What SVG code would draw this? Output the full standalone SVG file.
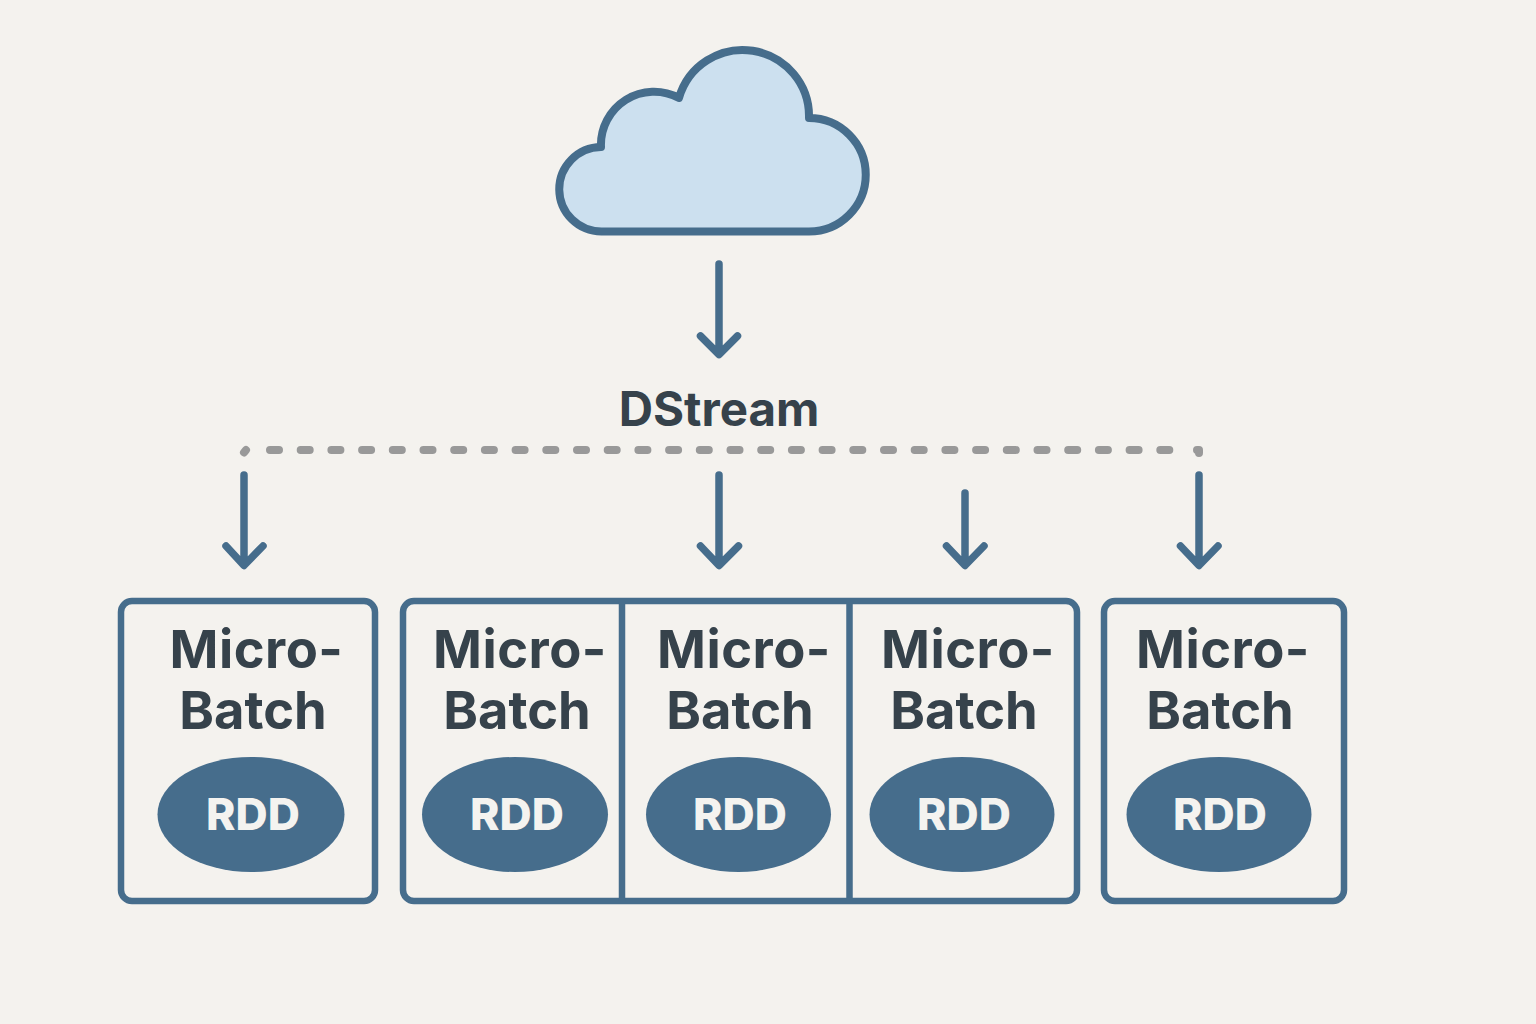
<svg xmlns="http://www.w3.org/2000/svg" width="1536" height="1024" viewBox="0 0 1536 1024">
<style>
.box{fill:none;stroke:#466d8c;stroke-width:6.500}
.ln{fill:none;stroke:#466d8c;stroke-width:7.500;stroke-linecap:round;stroke-linejoin:round}
.t{font-family:Inter,"Liberation Sans",sans-serif;font-weight:700;fill:#36424b;text-anchor:middle}
.mb{font-size:52.500px}
.m{letter-spacing:.5px}
.r{font-family:Inter,"Liberation Sans",sans-serif;font-weight:800;font-size:44.500px;fill:#f4f3f0;text-anchor:middle}
.e{fill:#466d8c}
.d{fill:none;stroke:#999;stroke-width:8;stroke-linecap:round;stroke-linejoin:round}
</style>
<rect width="1536" height="1024" fill="#f4f2ee"/>
<g id="cloud">
<path d="M602 231.500H809A56.500 56.500 0 0 0 809 118A66.300 66.300 0 0 0 679 98A53 53 0 0 0 601 147A42 42 0 0 0 602 231.500Z" fill="#cce0ef" stroke="#466d8c" stroke-width="8" stroke-linejoin="round"/>
</g>
<g id="connectors">
<path class="ln" d="M719 264V354M700.500 336L719 354.500L737.500 336"/>
<path class="d" d="M270 450H1188" stroke-dasharray="9 21.700"/>
<path class="d" d="M244 452.500L246 450"/>
<path class="d" d="M1197 450L1199 450L1199 453"/>
<path class="ln" d="M244 475V565M226 546L244 565.500L263 546"/>
<path class="ln" d="M719 475V565M700.500 546L719 565.500L738.500 546"/>
<path class="ln" d="M965 493V565M946.500 546L965 565.500L984 546"/>
<path class="ln" d="M1199 475V565M1180.500 546L1199 565.500L1218 546"/>
</g>
<g id="dstream"><text class="t" x="719" y="426" font-size="47.500">DStream</text></g>
<g id="batch-1">
<rect class="box" x="121" y="601" width="254" height="300" rx="11"/>
<text class="t mb m" x="256.500" y="668">Micro-</text><text class="t mb" x="253" y="729">Batch</text>
<ellipse class="e" cx="251" cy="814.500" rx="93.500" ry="57.500"/><text class="r" x="253" y="830">RDD</text>
</g>
<g id="batch-group">
<rect class="box" x="403" y="601" width="674" height="300" rx="11"/>
<path class="box" d="M622 601V901M849.500 601V901"/>
</g>
<g id="batch-2">
<text class="t mb m" x="520" y="668">Micro-</text><text class="t mb" x="517" y="729">Batch</text>
<ellipse class="e" cx="515" cy="814.500" rx="93" ry="57.500"/><text class="r" x="517" y="830">RDD</text>
</g>
<g id="batch-3">
<text class="t mb m" x="744" y="668">Micro-</text><text class="t mb" x="740" y="729">Batch</text>
<ellipse class="e" cx="738.500" cy="814.500" rx="92.500" ry="57.500"/><text class="r" x="740" y="830">RDD</text>
</g>
<g id="batch-4">
<text class="t mb m" x="968" y="668">Micro-</text><text class="t mb" x="964" y="729">Batch</text>
<ellipse class="e" cx="962" cy="814.500" rx="92.500" ry="57.500"/><text class="r" x="964" y="830">RDD</text>
</g>
<g id="batch-5">
<rect class="box" x="1104" y="601" width="240" height="300" rx="11"/>
<text class="t mb m" x="1223" y="668">Micro-</text><text class="t mb" x="1220" y="729">Batch</text>
<ellipse class="e" cx="1219" cy="814.500" rx="92.500" ry="57.500"/><text class="r" x="1220" y="830">RDD</text>
</g>
</svg>
